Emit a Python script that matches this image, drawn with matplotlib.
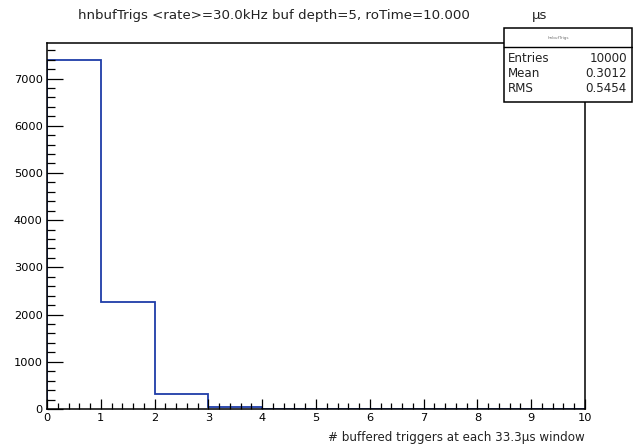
import numpy as np
import matplotlib
matplotlib.use("Agg")
from matplotlib import pyplot as plt
from matplotlib.ticker import MultipleLocator

plt.rcParams['font.family'] = ['DejaVu Sans']

# histogram contents (10 bins from 0 to 10)
bin_edges = list(range(0, 11))
counts = [7383, 2262, 315, 40, 0, 0, 0, 0, 0, 0]
entries = 10000
mean = 0.3012
rms = 0.5454

title = "hnbufTrigs <rate>=30.0kHz buf depth=5, roTime=10.000"
title_unit = "\u00b5s"
xlabel = "# buffered triggers at each 33.3\u00b5s window"

W, H = 633, 445
fig = plt.figure(figsize=(W / 100, H / 100), dpi=100)
ax = fig.add_axes([47 / W, 1 - 409 / H, (585 - 47) / W, (409 - 43) / H])

ax.stairs(counts, bin_edges, color='#1f3da8', linewidth=1.3)
ax.set_xlim(0, 10)
ax.set_ylim(0, 1.05 * max(counts))

ax.xaxis.set_major_locator(MultipleLocator(1))
ax.xaxis.set_minor_locator(MultipleLocator(0.2))
ax.yaxis.set_major_locator(MultipleLocator(1000))
ax.yaxis.set_minor_locator(MultipleLocator(200))
ax.tick_params(axis='x', which='major', direction='in', length=7.2, width=0.9, labelsize=8.2, pad=3)
ax.tick_params(axis='x', which='minor', direction='in', length=4.2, width=0.9)
ax.tick_params(axis='y', which='major', direction='in', length=11.3, width=0.9, labelsize=8.2, pad=3)
ax.tick_params(axis='y', which='minor', direction='in', length=5.8, width=0.9)
for s in ax.spines.values():
    s.set_linewidth(1.1)

fig.text(78 / W, 1 - 16 / H, title, fontsize=9.6, va='center', ha='left', color='#222222')
fig.text(532 / W, 1 - 16 / H, title_unit, fontsize=9.6, va='center', ha='left', color='#222222')
fig.text(585 / W, 1 - 437 / H, xlabel, fontsize=8.6, va='center', ha='right', color='#222222')

# stats box
bx0, by0, bx1, by1 = 504 / W, 1 - 102 / H, 632 / W, 1 - 28 / H
fig.patches.append(plt.Rectangle((bx0, by0), bx1 - bx0, by1 - by0, transform=fig.transFigure,
                                 facecolor='white', edgecolor='black', linewidth=1.1, zorder=5))
fig.lines.append(plt.Line2D([bx0, bx1], [1 - 47 / H] * 2, transform=fig.transFigure,
                            color='black', linewidth=1, zorder=6))
fig.text((bx0 + bx1) / 2 - 10 / W, 1 - 38 / H, "hnbufTrigs", fontsize=3, color='#777777',
         ha='center', va='center', zorder=7)
rows = [("Entries", f"{entries}"), ("Mean", f"{mean:.4f}"), ("RMS", f"{rms:.4f}")]
for i, (k, v) in enumerate(rows):
    y = 1 - (58 + 15.5 * i) / H
    fig.text(508 / W, y, k, fontsize=8.6, ha='left', va='center', zorder=7, color='#222222')
    fig.text(627 / W, y, v, fontsize=8.6, ha='right', va='center', zorder=7, color='#222222')

fig.savefig("out.png", dpi=100, facecolor='white')
